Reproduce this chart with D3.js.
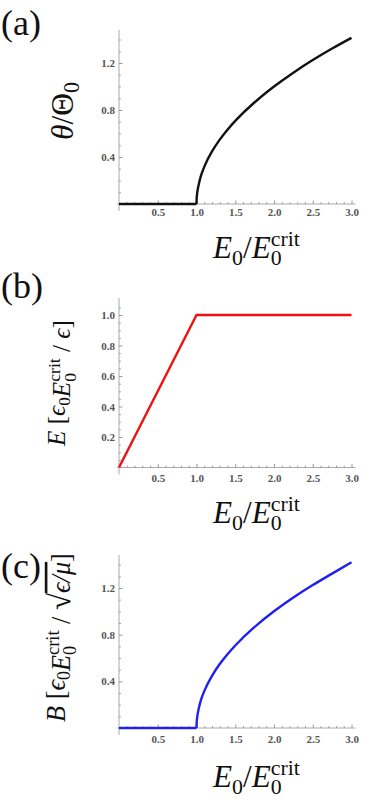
<!DOCTYPE html>
<html lang="en">
<head>
  <meta charset="UTF-8">
  <title>Field response vs E0/E0crit</title>
  <script src="https://d3js.org/d3.v7.min.js"></script>
  <style>
    body { margin: 0; background: #fff; }
    .tick text { font-family: "Liberation Serif", "DejaVu Serif", serif; font-size: 11px; fill: #555; font-weight: bold; }
    .tick line { stroke: #999; }
    .axisline { stroke: #aaa; stroke-width: 1px; }
    .lbl { font-family: "Liberation Serif", "DejaVu Serif", serif; fill: #111; }
  </style>
</head>
<body>
  <svg id="chart" width="382" height="809"></svg>
  <script>
    // data
    const xTickVals = [0.5, 1.0, 1.5, 2.0, 2.5, 3.0];
    const yTicksA = [0.4, 0.8, 1.2];
    const yTicksB = [0.2, 0.4, 0.6, 0.8, 1.0];
    const yTicksC = [0.4, 0.8, 1.2];

    // (a) theta / Theta0
    const thetaX = [0, 1.0, 1.002, 1.01, 1.03, 1.06, 1.1, 1.2, 1.3, 1.4, 1.5, 1.75, 2.0, 2.25, 2.5, 2.75, 3.0];
    const thetaY = [0, 0, 0.045, 0.1, 0.17, 0.245, 0.316, 0.447, 0.548, 0.632, 0.707, 0.866, 1.0, 1.118, 1.225, 1.323, 1.414];
    // (b) E field
    const fieldX = [0, 1.0, 3.0];
    const fieldY = [0, 1.0, 1.0];
    // (c) B field
    const bX = [0, 1.0, 1.002, 1.01, 1.03, 1.06, 1.1, 1.2, 1.3, 1.4, 1.5, 1.75, 2.0, 2.25, 2.5, 2.75, 3.0];
    const bY = [0, 0, 0.045, 0.1, 0.17, 0.245, 0.316, 0.447, 0.548, 0.632, 0.707, 0.866, 1.0, 1.118, 1.225, 1.323, 1.42];

    const svg = d3.select("#chart");

    const panels = [
      { xs: thetaX, ys: thetaY, color: "#111", yTicks: yTicksA, y0: 204, yRef: 1.2, yRefPx: 63, top: 30,
        minor: 0.1, yMax: 1.45, tickPad: 4, tag: "(a)", tagY: 35, xlabY: 258,
        ylab: "a", ylabX: 73, ylabY: 111, ylabLen: 58 },
      { xs: fieldX, ys: fieldY, color: "#f01010", yTicks: yTicksB, y0: 467.5, yRef: 1.0, yRefPx: 315, top: 298,
        minor: 0.05, yMax: 1.1, tickPad: 7, tag: "(b)", tagY: 298, xlabY: 523,
        ylab: "b", ylabX: 65, ylabY: 383.5, ylabLen: 127 },
      { xs: bX, ys: bY, color: "#2020f0", yTicks: yTicksC, y0: 728, yRef: 1.2, yRefPx: 588, top: 555,
        minor: 0.1, yMax: 1.45, tickPad: 7, tag: "(c)", tagY: 578, xlabY: 787,
        ylab: "c", ylabX: 65, ylabY: 637.5, ylabLen: 169 }
    ];

    const x = d3.scaleLinear().domain([0, 3]).range([119, 351.5]);

    panels.forEach(p => {
      const y = d3.scaleLinear().domain([0, p.yRef]).range([p.y0, p.yRefPx]);
      const g = svg.append("g");

      // axis lines
      g.append("line").attr("class", "axisline")
        .attr("x1", x(0) - 2).attr("x2", x(3.05)).attr("y1", y(0)).attr("y2", y(0));
      g.append("line").attr("class", "axisline")
        .attr("x1", x(0)).attr("x2", x(0)).attr("y1", y(0) + 7).attr("y2", p.top);

      // minor ticks
      const xMinor = d3.range(0.1, 3.01, 0.1).filter(v => Math.abs(v * 2 - Math.round(v * 2)) > 1e-6);
      g.append("g").attr("transform", `translate(0,${y(0)})`)
        .call(d3.axisBottom(x).tickValues(xMinor).tickSizeInner(-1.8).tickSizeOuter(0).tickFormat(""))
        .call(a => a.select(".domain").remove());
      const yMinor = d3.range(p.minor, p.yMax, p.minor)
        .filter(v => !p.yTicks.some(t => Math.abs(t - v) < 1e-6));
      g.append("g").attr("transform", `translate(${x(0)},0)`)
        .call(d3.axisLeft(y).tickValues(yMinor).tickSizeInner(-1.8).tickSizeOuter(0).tickFormat(""))
        .call(a => a.select(".domain").remove());

      // major ticks
      g.append("g").attr("transform", `translate(0,${y(0)})`)
        .call(d3.axisBottom(x).tickValues(xTickVals).tickSizeInner(-3.5).tickSizeOuter(0)
          .tickPadding(p.tickPad).tickFormat(d3.format(".1f")))
        .call(a => a.select(".domain").remove());
      g.append("g").attr("transform", `translate(${x(0)},0)`)
        .call(d3.axisLeft(y).tickValues(p.yTicks).tickSizeInner(-3.5).tickSizeOuter(0)
          .tickPadding(4).tickFormat(d3.format(".1f")))
        .call(a => a.select(".domain").remove());

      // curve: flat / linear part, then the rising part (smooth in y)
      const pts = p.xs.map((v, i) => [v, p.ys[i]]);
      const line = d3.line().x(d => x(d[0])).y(d => y(d[1]));
      const segs = pts.length > 3 ? [[pts.slice(0, 2), d3.curveLinear], [pts.slice(1), d3.curveMonotoneY]]
                                  : [[pts, d3.curveLinear]];
      segs.forEach(([s, c]) => {
        g.append("path")
          .datum(s)
          .attr("fill", "none")
          .attr("stroke", p.color)
          .attr("stroke-width", 2.4)
          .attr("stroke-linejoin", "round")
          .attr("d", line.curve(c));
      });

      // panel tag
      g.append("text").attr("class", "lbl").attr("x", 1).attr("y", p.tagY)
        .attr("font-size", 36).text(p.tag);

      // x label  E0 / E0^crit
      const xl = g.append("text").attr("class", "lbl").attr("font-size", 30);
      writeE0crit(xl, 30, true);
      fit(xl, 88, 256, p.xlabY, false);

      // y label
      const yl = g.append("text").attr("class", "lbl");
      if (p.ylab === "a") {
        yl.attr("font-size", 30);
        yl.append("tspan").attr("font-style", "italic").text("θ");
        yl.append("tspan").text("/Θ");
        yl.append("tspan").attr("font-size", 21).attr("dy", 6).text("0");
      } else if (p.ylab === "b") {
        yl.attr("font-size", 25);
        yl.append("tspan").attr("font-style", "italic").text("E");
        yl.append("tspan").text(" [");
        yl.append("tspan").attr("font-style", "italic").text("ϵ");
        yl.append("tspan").attr("font-size", 17).attr("dy", 5).text("0");
        yl.append("tspan").attr("dy", -5).text("");
        writeE0crit(yl, 25, false);
        yl.append("tspan").attr("font-style", "italic").text("ϵ");
        yl.append("tspan").text("]");
      } else {
        yl.attr("font-size", 22);
        yl.append("tspan").attr("font-style", "italic").text("B");
        yl.append("tspan").text(" [");
        yl.append("tspan").attr("font-style", "italic").text("ϵ");
        yl.append("tspan").attr("font-size", 15).attr("dy", 4).text("0");
        yl.append("tspan").attr("dy", -4).text("");
        writeE0crit(yl, 22, false);
        yl.append("tspan").attr("font-size", 26).text("√");
        yl.append("tspan").attr("font-style", "italic")
          .style("text-decoration", "overline").text("ϵ/μ");
        yl.append("tspan").text("]");
      }
      fit(yl, p.ylabLen, p.ylabX, p.ylabY, true);
    });

    // E with stacked sub 0 and sup crit
    function writeE0crit(t, size, full) {
      const sub = size * 0.7;
      const w0 = sub * 0.5;
      if (full) {
        t.append("tspan").attr("font-style", "italic").text("E");
        t.append("tspan").attr("font-size", sub).attr("dy", size * 0.22).text("0");
        t.append("tspan").attr("dy", -size * 0.22).text("/");
      }
      t.append("tspan").attr("font-style", "italic").text("E");
      t.append("tspan").attr("font-size", sub).attr("dy", size * 0.22).text("0");
      t.append("tspan").attr("font-size", sub).attr("dx", -w0).attr("dy", -size * 0.62).text("crit");
      if (!full) t.append("tspan").attr("dy", size * 0.4).text(" / ");
    }

    // scale a label to the length seen in the picture, centre it, baseline at (bx, by)
    function fit(t, len, bx, by, rotated) {
      const b = t.node().getBBox();
      const k = len / b.width;
      t.attr("transform",
        `translate(${bx},${by})${rotated ? " rotate(-90)" : ""} scale(${k}) translate(${-(b.x + b.width / 2)},0)`);
    }
  </script>
</body>
</html>
